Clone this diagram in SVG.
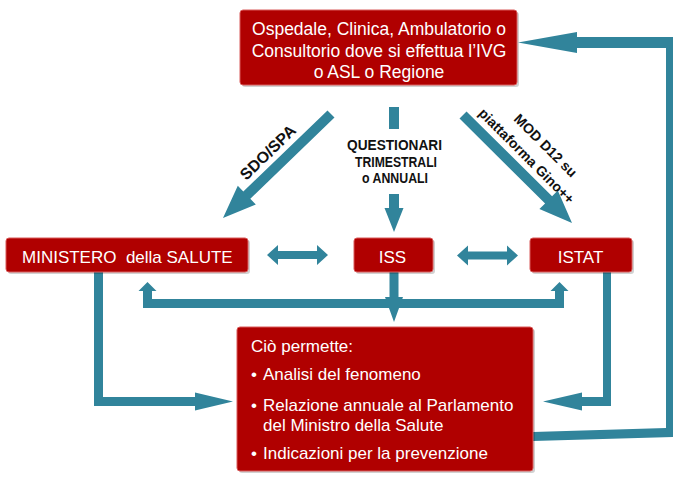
<svg xmlns="http://www.w3.org/2000/svg" width="682" height="480" viewBox="0 0 682 480">
<style>
.box{fill:#B00000;stroke:#D95A5A;stroke-width:1}
.sh{fill:#000;opacity:0.18}
.t{font-family:"Liberation Sans",Arial,sans-serif;fill:#FFFFFF}
.lbl{font-family:"Liberation Sans",Arial,sans-serif;font-weight:bold;fill:#111111}
.arr{fill:#31849B}
</style>
<rect width="682" height="480" fill="#FFFFFF"/>
<g id="connectors">
  <polygon class="arr" points="334.5,117.6 250.3,198.7 255.8,204.4 223,218 237.8,185.7 243.3,191.5 327.5,110.4"/>
  <polygon class="arr" points="459.5,118.6 545.1,203.4 539.4,209 572,223 557.8,190.6 552.1,196.2 466.5,111.5"/>
  <rect class="arr" x="389" y="107" width="10" height="22"/>
  <polygon class="arr" points="389,194 399,194 399,208 403.5,208 394,232 384.5,208 389,208"/>
  <polygon class="arr" points="267,255 278,245 278,251 317,251 317,245 328,255 317,265 317,259 278,259 278,265"/>
  <polygon class="arr" points="457,255.5 468,245.5 468,251.5 507,251.5 507,245.5 518,255.5 507,265.5 507,259.5 468,259.5 468,265.5"/>
  <polygon class="arr" points="389.5,272 398.5,272 398.5,297 403,297 394,322 385,297 389.5,297"/>
  <polygon class="arr" points="143,308 564,308 564,291 568.5,291 559.5,282 550.5,291 555,291 555,299 152,299 152,291 156.5,291 147.5,282 138.5,291 143,291"/>
  <polygon class="arr" points="94,272 103,272 103,397 195,397 195,392.5 233,401.5 195,410.5 195,406 94,406"/>
  <polygon class="arr" points="603,272 611,272 611,406 582,406 582,410.5 543,401.5 582,392.5 582,397 603,397"/>
  <polygon class="arr" points="533,432 666,428 666,48 577,48 577,53 518,42.5 577,32 577,37 673,37 673,437 533,441"/>
</g>
<g id="labels">
  <text class="lbl" font-size="16" text-anchor="middle" transform="translate(271.7,156.4) rotate(-44)">SDO/SPA</text>
  <text class="lbl" font-size="14" text-anchor="middle" x="394.5" y="150" textLength="95" lengthAdjust="spacingAndGlyphs">QUESTIONARI</text>
  <text class="lbl" font-size="14" text-anchor="middle" x="396" y="167" textLength="82" lengthAdjust="spacingAndGlyphs">TRIMESTRALI</text>
  <text class="lbl" font-size="14" text-anchor="middle" x="395" y="183" textLength="66" lengthAdjust="spacingAndGlyphs">o ANNUALI</text>
  <text class="lbl" font-size="14" text-anchor="middle" transform="translate(542.2,149) rotate(45)">MOD D12 su</text>
  <text class="lbl" font-size="14" text-anchor="middle" transform="translate(523.1,159.5) rotate(45)">piattaforma Gino++</text>
</g>
<g id="node-origine">
  <rect class="sh" x="242" y="12" width="277" height="75" rx="3"/>
  <rect class="box" x="240" y="10" width="277" height="75" rx="3"/>
  <text class="t" font-size="17.5" text-anchor="middle" x="379" y="35">Ospedale, Clinica, Ambulatorio o</text>
  <text class="t" font-size="17.5" text-anchor="middle" x="379" y="57">Consultorio dove si effettua l’IVG</text>
  <text class="t" font-size="17.5" text-anchor="middle" x="379" y="78">o ASL o Regione</text>
</g>
<g id="node-ministero">
  <rect class="sh" x="8" y="240" width="242" height="34" rx="3"/>
  <rect class="box" x="6" y="238" width="242" height="34" rx="3"/>
  <text class="t" font-size="17" x="22" y="263">MINISTERO&#160; della SALUTE</text>
</g>
<g id="node-iss">
  <rect class="sh" x="356" y="240" width="79" height="34" rx="3"/>
  <rect class="box" x="354" y="238" width="79" height="34" rx="3"/>
  <text class="t" font-size="17" text-anchor="middle" x="392.5" y="263">ISS</text>
</g>
<g id="node-istat">
  <rect class="sh" x="532" y="240" width="102" height="34" rx="3"/>
  <rect class="box" x="530" y="238" width="102" height="34" rx="3"/>
  <text class="t" font-size="17" text-anchor="middle" x="580.5" y="263">ISTAT</text>
</g>
<g id="node-risultati">
  <rect class="sh" x="239" y="329" width="296" height="144" rx="3"/>
  <rect class="box" x="237" y="327" width="296" height="144" rx="3"/>
  <text class="t" font-size="17" x="251" y="352">Ciò permette:</text>
  <text class="t" font-size="17" x="251" y="380">•</text>
  <text class="t" font-size="17" x="263" y="380">Analisi del fenomeno</text>
  <text class="t" font-size="17" x="251" y="411">•</text>
  <text class="t" font-size="17" x="263" y="411">Relazione annuale al Parlamento</text>
  <text class="t" font-size="17" x="263" y="431">del Ministro della Salute</text>
  <text class="t" font-size="17" x="251" y="459">•</text>
  <text class="t" font-size="17" x="263" y="459">Indicazioni per la prevenzione</text>
</g>
</svg>
